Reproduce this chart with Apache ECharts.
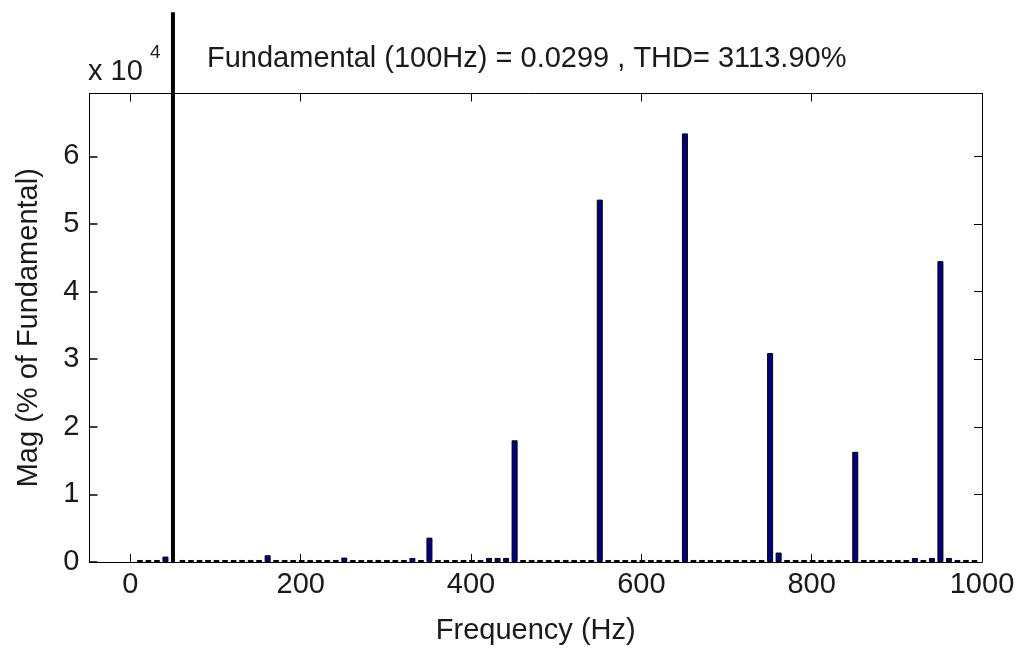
<!DOCTYPE html>
<html>
<head>
<meta charset="utf-8">
<script src="https://cdn.jsdelivr.net/npm/echarts@6/dist/echarts.min.js"></script>
<style>
html,body{margin:0;padding:0;background:#fff;}
#chart{width:1019px;height:650px;}
</style>
</head>
<body>
<div id="chart"></div>
<script>
// Frequencies (Hz) of the FFT bins
const freqHz = [10,20,30,40,50,60,70,80,90,100,
  110,120,130,140,150,160,170,180,190,200,
  210,220,230,240,250,260,270,280,290,300,
  310,320,330,340,350,360,370,380,390,400,
  410,420,430,440,450,460,470,480,490,500,
  510,520,530,540,550,560,570,580,590,600,
  610,620,630,640,650,660,670,680,690,700,
  710,720,730,740,750,760,770,780,790,800,
  810,820,830,840,850,860,870,880,890,900,
  910,920,930,940,950,960,970,980,990];
// Magnitude (% of fundamental), in units of 1e4
const magE4 = [0.03,0.03,0.03,0.08,8.13,0.03,0.03,0.03,0.03,0.03,
  0.03,0.03,0.03,0.03,0.03,0.10,0.03,0.03,0.03,0.03,
  0.03,0.03,0.03,0.03,0.065,0.03,0.03,0.03,0.03,0.03,
  0.03,0.03,0.06,0.03,0.36,0.03,0.03,0.03,0.03,0.03,
  0.03,0.06,0.06,0.06,1.80,0.03,0.03,0.03,0.03,0.03,
  0.03,0.03,0.03,0.03,5.36,0.03,0.03,0.03,0.03,0.03,
  0.03,0.03,0.03,0.03,6.34,0.03,0.03,0.03,0.03,0.03,
  0.03,0.03,0.03,0.03,3.09,0.14,0.03,0.03,0.03,0.03,
  0.03,0.03,0.03,0.03,1.63,0.03,0.03,0.03,0.03,0.03,
  0.03,0.06,0.03,0.06,4.45,0.06,0.03,0.03,0.03];
const fundamentalHz = 50;
const xTicks = [0,200,400,600,800,1000];
const yTicks = [0,1,2,3,4,5,6];
const titleText = 'Fundamental (100Hz) = 0.0299 , THD= 3113.90%';
const xName = 'Frequency (Hz)';
const yName = 'Mag (% of Fundamental)';

const FONT = "'Liberation Sans', Arial, sans-serif";
const TXT = '#1a1a1a';

const GRID = { left: 89.5, right: 37, top: 93.5, bottom: 85.5 };
const gridWidth = 1019 - GRID.left - GRID.right;
const TICK_LEN = 8;

const harmonics = [];
const fundamental = [];
freqHz.forEach((f, i) => {
  if (f === fundamentalHz) fundamental.push([f, magE4[i]]);
  else harmonics.push([f, magE4[i]]);
});

const chart = echarts.init(document.getElementById('chart'), null, { renderer: 'canvas' });
const axisLineStyle = { color: '#000', width: 1 };
const tickStyle = { color: '#000', width: 1 };
const plainNum = v => String(v);
const tickOnlyY = (offset, showLine, style) => ({
  type: 'value', min: 0, max: 6.93, interval: 1, position: 'right', offset: offset,
  axisLine: { show: showLine, onZero: false, lineStyle: axisLineStyle },
  axisTick: { show: true, inside: true, length: TICK_LEN, customValues: yTicks, lineStyle: style },
  axisLabel: { show: false },
  splitLine: { show: false }
});
chart.setOption({
  animation: false,
  backgroundColor: '#fff',
  grid: GRID,
  graphic: [
    { type: 'text', left: 207, top: 44, style: { text: titleText, font: '29px ' + FONT, fill: TXT } },
    { type: 'text', left: 88, top: 57, style: { text: 'x 10', font: '29px ' + FONT, fill: TXT } },
    { type: 'text', left: 150, top: 43, style: { text: '4', font: '19px ' + FONT, fill: TXT } }
  ],
  xAxis: [{
    type: 'value', min: -48, max: 1000, position: 'bottom',
    name: xName, nameLocation: 'middle', nameGap: 54,
    nameTextStyle: { fontSize: 29, fontFamily: FONT, color: TXT },
    axisLine: { show: true, onZero: false, lineStyle: axisLineStyle },
    axisTick: { show: true, inside: true, length: TICK_LEN, customValues: xTicks, lineStyle: tickStyle },
    axisLabel: { customValues: xTicks, formatter: plainNum, fontSize: 29, fontFamily: FONT, color: TXT, margin: 8 },
    splitLine: { show: false }
  }, {
    type: 'value', min: -48, max: 1000, position: 'top',
    axisLine: { show: true, onZero: false, lineStyle: axisLineStyle },
    axisTick: { show: true, inside: true, length: TICK_LEN, customValues: xTicks, lineStyle: tickStyle },
    axisLabel: { show: false },
    splitLine: { show: false }
  }],
  yAxis: [{
    type: 'value', min: 0, max: 6.93, interval: 1, position: 'left',
    name: yName, nameLocation: 'middle', nameGap: 46, nameRotate: 90,
    nameTextStyle: { fontSize: 29, fontFamily: FONT, color: TXT },
    axisLine: { show: true, onZero: false, lineStyle: axisLineStyle },
    axisTick: { show: false },
    axisLabel: { customValues: yTicks, formatter: plainNum, fontSize: 29, fontFamily: FONT, color: TXT, margin: 10 },
    splitLine: { show: false }
  }, tickOnlyY(0, true, tickStyle), tickOnlyY(-(gridWidth - TICK_LEN), false, { color: '#000', width: 1.5 })],
  series: [{
    type: 'bar',
    xAxisIndex: 0, yAxisIndex: 0,
    data: harmonics,
    barWidth: 6,
    barGap: '-100%',
    itemStyle: { color: '#00007f', borderColor: '#000', borderWidth: 1 }
  }, {
    type: 'bar',
    xAxisIndex: 0, yAxisIndex: 0,
    data: fundamental,
    barWidth: 4,
    barGap: '-100%',
    clip: false,
    itemStyle: { color: '#000', borderColor: '#000', borderWidth: 0 }
  }]
});
</script>
</body>
</html>
